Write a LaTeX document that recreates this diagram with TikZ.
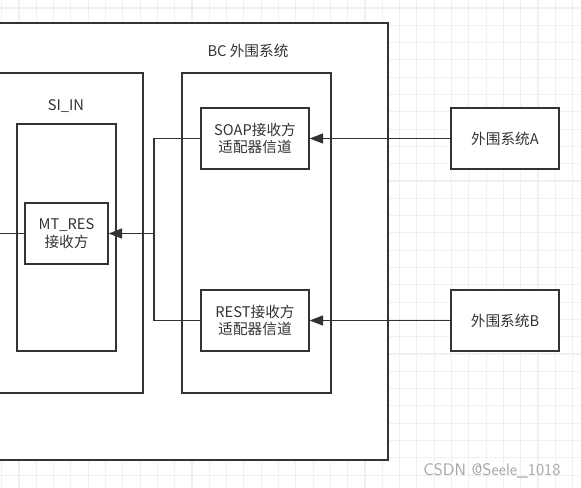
\documentclass[tikz,border=0pt]{standalone}
\usepackage{fontspec}
\setmainfont{Noto Sans CJK SC}
\usetikzlibrary{arrows.meta,positioning}
\definecolor{linec}{HTML}{333333}
\definecolor{gridc}{HTML}{F0F0F0}
\tikzset{
  box/.style={rectangle, draw=linec, line width=1pt, fill=white, text=linec,
    align=center, font=\fontsize{11}{13}\selectfont, inner sep=0pt},
  chan/.style={box, minimum width=81pt, minimum height=45.75pt},
  lbl/.style={text=linec, font=\fontsize{11}{13}\selectfont, inner sep=0pt},
  flow/.style={draw=linec, line width=1pt, -{Triangle[length=10pt,width=7.5pt]}},
  plain/.style={draw=linec, line width=1pt}
}
\begin{document}
\begin{tikzpicture}[x=0.75pt,y=-0.75pt]
\useasboundingbox (0,0) rectangle (581,488);
\clip (0,0) rectangle (581,488);
\fill[white] (0,0) rectangle (581,488);
\foreach \gx in {1.7,19,...,581} \draw[gridc, line width=0.8pt] (\gx,0) -- (\gx,488);
\foreach \gy in {8,25.3,...,488} \draw[gridc, line width=0.8pt] (0,\gy) -- (581,\gy);
\draw[plain, fill=white] (-200,23) rectangle (388,460);
\node[lbl] (bctitle) at (248,51) {BC 外围系统};
\node[box, minimum width=115.5pt, minimum height=240pt] (siin) at (66,233) {};
\node[lbl] (sititle) at (66,106) {SI\_IN};
\node[box, minimum width=74.25pt, minimum height=170.25pt] (siinner) at (66.5,237.5) {};
\node[box, minimum width=62.25pt, minimum height=45.75pt] (mtres) at (66.5,233.5) {MT\_RES\\接收方};
\node[box, minimum width=111.75pt, minimum height=240pt] (bc) at (256.5,233) {};
\node[chan] (soap) at (255,138.5) {SOAP接收方\\适配器信道};
\node[chan] (rest) at (255,320.5) {REST接收方\\适配器信道};
\node[chan] (sysa) at (505,138.5) {外围系统A};
\node[chan] (sysb) at (505,320.5) {外围系统B};
\coordinate (leftend) at (-20,233.5);
\coordinate (join) at (154,233.5);
\draw[flow] (sysa) -- (soap);
\draw[flow] (sysb) -- (rest);
\draw[plain] (soap.west) -| (join);
\draw[plain] (rest.west) -| (join);
\draw[flow] (join) -- (mtres.east);
\draw[plain] (mtres.west) -- (leftend);
\node[text=black!35, font=\fontsize{12.5}{14}\selectfont\sffamily] (mark) at (492,471) {CSDN @Seele\_1018};
\end{tikzpicture}
\end{document}
